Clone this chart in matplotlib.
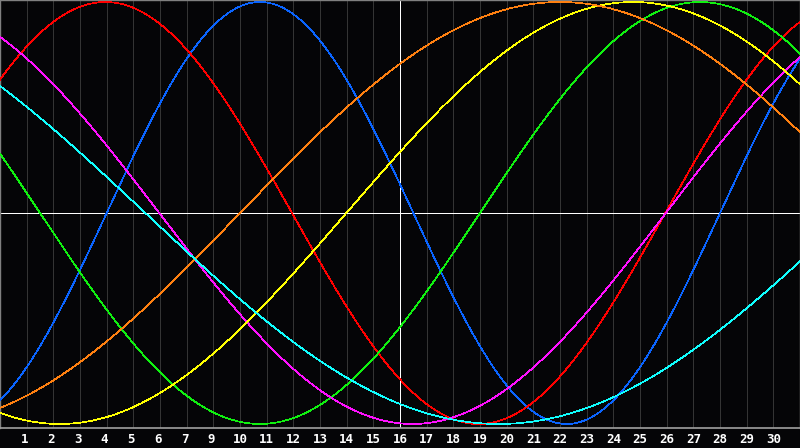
import numpy as np
import matplotlib
matplotlib.use('Agg')
import matplotlib.pyplot as plt
import matplotlib.transforms as mtransforms

# 日目の目盛り（8日が抜けている）
day_pos = list(range(1, 30))
day_labels = ['1', '2', '3', '4', '5', '6', '7', '9', '10', '11', '12', '13', '14', '15',
              '16', '17', '18', '19', '20', '21', '22', '23', '24', '25', '26', '27', '28',
              '29', '30']

# バイオリズム周期（周期日数と山のある日）
cycle_names = ['physical', 'emotional', 'intellectual', 'spiritual',
               'aesthetic', 'awareness', 'intuitive']
cycle_periods = [23, 28, 33, 38, 43, 48, 53]
cycle_peaks = [9.75, 3.95, 26.25, 34.47, 23.74, 21.0, 45.2]
cycle_colors = ['#0a64ff', '#ff0000', '#10f010', '#ff10ff',
                '#ffff00', '#ff8010', '#10ffff']

BG = '#050507'

fig = plt.figure(figsize=(8, 4.48), dpi=100, facecolor=BG)
ax = fig.add_axes([0, 20 / 448, 1, 428 / 448], facecolor=BG)
ax.set_xlim(0, 30)
ax.set_ylim(-1.019, 1.0095)

# 縦のグリッド線
for d in day_pos:
    ax.axvline(d, color='#343434', linewidth=0.6, antialiased=False, zorder=1)

# 中央の十字線
ax.axhline(0, color='white', linewidth=0.6, antialiased=False, zorder=2)
ax.axvline(15, color='white', linewidth=0.6, antialiased=False, zorder=2)

t = np.linspace(0, 30, 1601)
for name, per, pk, col in zip(cycle_names, cycle_periods, cycle_peaks, cycle_colors):
    v = np.cos(2 * np.pi * (t - pk) / per)
    ax.plot(t, v, color=col, linewidth=0.5, antialiased=False, zorder=3, label=name)

ax.set_xticks([])
ax.set_yticks([])
for s in ['top', 'left', 'right']:
    ax.spines[s].set_color('#808080')
    ax.spines[s].set_linewidth(1.0)
ax.spines['bottom'].set_color('#a0a0a0')
ax.spines['bottom'].set_linewidth(1.2)

trans = mtransforms.blended_transform_factory(ax.transData, ax.transAxes)
for d, lab in zip(day_pos, day_labels):
    x = d - 0.08 if len(lab) == 1 else d
    ax.text(x, -11 / 428, lab, transform=trans, ha='center', va='center',
            color='white', fontsize=9, fontweight='bold', family='DejaVu Sans Mono')

fig.savefig('out.png', dpi=100, facecolor=BG)
